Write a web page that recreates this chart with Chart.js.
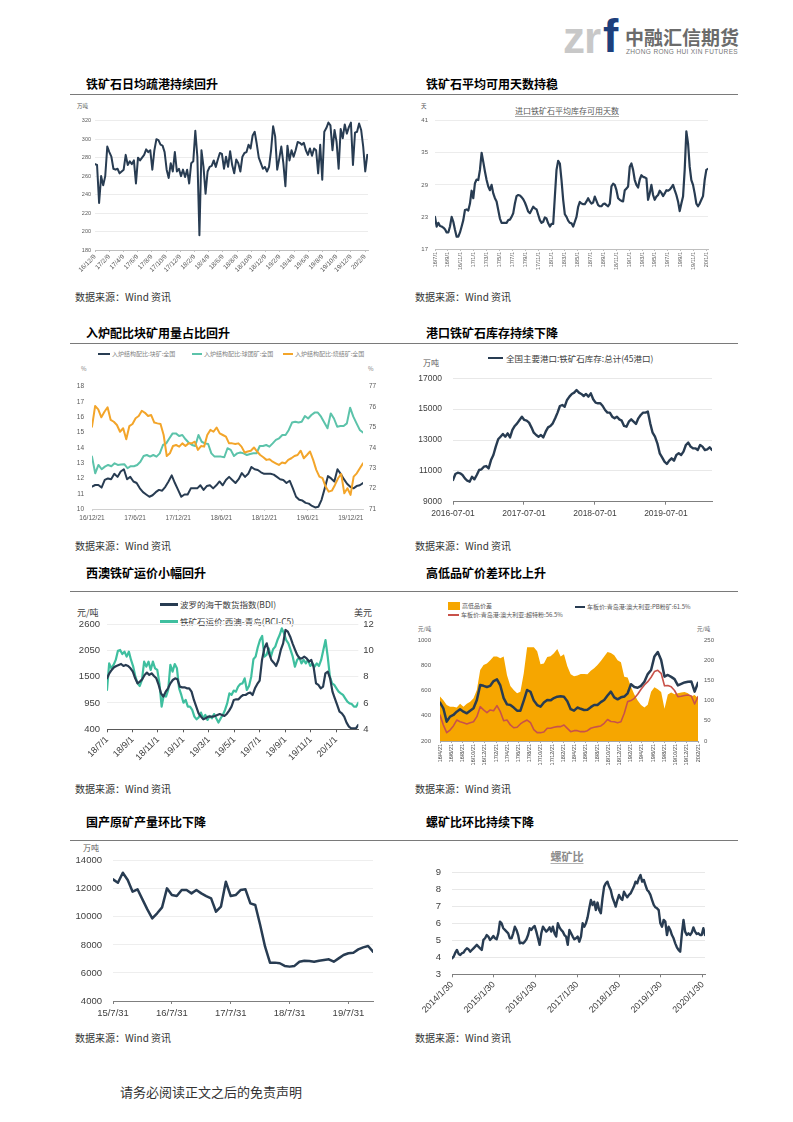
<!DOCTYPE html>
<html><head><meta charset="utf-8">
<script src="https://cdn.jsdelivr.net/npm/chart.js@4/dist/chart.umd.min.js"></script>
<style>
html,body{margin:0;padding:0;background:#fff;}
body{width:793px;height:1122px;position:relative;overflow:hidden;font-family:'Noto Sans CJK SC','Liberation Sans',sans-serif;}
.t{position:absolute;white-space:nowrap;line-height:1;}
canvas{position:absolute;}
</style></head><body>
<script>
// ---------- DATA ----------
const c1Labels=['16/12/9','17/2/9','17/4/9','17/6/9','17/8/9','17/10/9','17/12/9','18/2/9','18/4/9','18/6/9','18/8/9','18/10/9','18/12/9','19/2/9','19/4/9','19/6/9','19/8/9','19/10/9','19/12/9','20/2/9'];
const c1Port=[273,272,231,260,250,260,292,286,281,268,267,268,263,265,267,283,272,276,273,277,252,280,277,280,283,289,286,288,267,288,300,299,294,293,286,267,258,274,265,286,265,268,260,267,259,267,252,274,276,309,281,196,288,270,241,265,270,271,277,270,278,285,284,268,281,270,287,272,263,278,274,265,281,285,286,294,290,304,308,295,280,274,268,270,265,270,288,314,303,267,279,292,274,249,293,277,288,281,288,297,296,294,296,288,283,290,282,290,288,263,294,256,308,312,318,315,288,310,297,268,311,301,316,306,313,318,272,307,308,317,310,292,265,283];

const c2Labels=['16/7/1','16/9/1','16/11/1','17/1/1','17/3/1','17/5/1','17/7/1','17/9/1','17/11/1','18/1/1','18/3/1','18/5/1','18/7/1','18/9/1','18/11/1','19/1/1','19/3/1','19/5/1','19/7/1','19/9/1','19/11/1','20/1/1'];
const c2Days=[23.0,21.2,21.9,21.3,21.2,21.0,20.7,20.1,20.1,21.2,23.0,22.1,20.6,19.3,19.3,20.1,21.2,22.4,24.3,24.4,24.2,25.5,27.9,26.5,29.3,30.0,29.9,31.8,35.0,33.3,31.5,29.9,28.7,28.0,29.0,27.4,26.5,25.9,24.3,22.7,21.9,21.9,21.9,21.9,22.4,22.5,23.0,23.7,25.5,26.9,27.1,27.0,26.7,26.3,25.7,24.9,24.0,23.7,24.3,24.9,24.6,24.4,23.4,22.4,21.9,22.1,22.9,22.7,21.8,21.2,21.7,21.7,26.8,31.8,33.5,33.0,29.9,26.2,23.5,23.0,22.3,21.9,21.8,21.2,22.1,23.0,24.9,25.8,25.5,25.4,25.4,25.9,26.5,25.9,25.5,25.7,26.8,26.0,25.2,25.0,25.0,25.4,25.5,25.2,25.0,25.5,28.7,29.2,29.0,28.0,26.5,26.2,26.0,25.9,28.0,28.3,28.7,32.4,33.0,31.8,29.9,29.0,28.5,30.0,30.8,30.5,30.4,30.2,26.2,27.4,29.0,27.1,26.2,26.8,27.1,27.9,27.5,26.9,27.4,28.0,27.9,28.1,28.5,29.0,28.0,27.1,25.9,24.1,25.5,26.8,31.8,39.0,36.8,32.4,29.9,29.0,27.4,25.5,25.0,25.5,26.2,26.9,29.9,31.8,32.0];

const c3Labels=['16/12/21','17/6/21','17/12/21','18/6/21','18/12/21','19/6/21','19/12/21'];
const c3Lump=[11.46,11.57,11.57,11.4,11.9,12.0,11.95,12.3,12.1,12.45,12.6,11.95,12.1,11.8,11.7,11.35,11.1,10.95,10.8,10.9,11.1,11.25,11.2,11.45,11.8,12.2,11.7,11.25,10.8,10.95,10.95,11.35,11.35,11.35,11.55,11.25,11.5,11.55,11.35,11.55,11.8,11.55,11.9,12.1,11.9,11.7,11.95,12.35,12.1,12.3,12.75,12.6,12.55,12.4,12.3,12.3,12.3,12.25,12.1,11.95,11.9,11.7,11.85,11.35,10.8,10.6,10.55,10.4,10.35,10.2,10.1,10.15,10.6,11.35,12.15,12.0,11.8,12.6,12.3,11.95,11.65,11.45,11.35,11.5,11.55,11.7];
const c3Pellet=[73.57,72.75,73.16,72.95,73.08,73.16,73.1,73.24,73.16,73.18,73.2,73.0,73.1,73.1,73.16,73.32,73.6,73.65,73.57,73.65,73.57,73.73,74.14,74.22,74.47,74.71,74.71,74.58,74.63,74.42,74.25,74.14,74.09,74.63,74.3,74.22,74.19,73.73,73.57,73.57,73.57,73.54,73.98,73.9,73.6,73.73,73.77,73.73,73.65,73.7,73.73,73.73,74.09,74.09,74.14,74.06,74.22,74.39,74.47,74.63,74.63,74.88,75.24,75.28,75.24,75.28,75.56,75.44,75.61,75.73,75.73,75.53,75.24,74.96,75.69,75.44,75.04,75.07,75.07,75.2,75.97,75.53,75.2,74.88,74.75];
const c3Sinter=[75.04,76.05,75.89,75.5,75.77,75.99,75.37,75.28,75.12,74.79,74.96,74.42,75.07,75.17,75.45,75.56,75.82,75.72,75.56,75.61,75.24,75.2,75.17,74.63,73.6,73.73,74.09,74.14,74.06,74.22,74.09,74.22,74.22,74.3,73.9,74.09,74.06,74.63,74.88,74.79,75.0,74.71,74.63,74.55,74.22,74.22,74.19,74.22,74.06,73.77,73.82,73.86,74.02,73.82,73.65,73.54,73.41,73.44,73.32,73.24,73.16,73.28,73.24,73.41,73.49,73.6,73.65,73.86,73.49,73.65,73.82,73.41,72.92,72.59,72.51,72.1,71.85,71.9,72.18,72.51,72.72,71.77,72.02,71.69,72.59,72.75,73.0,73.24];

const c4Labels=['2016-07-01','2017-07-01','2018-07-01','2019-07-01'];
const c4Stock=[10405,10795,10880,10840,10730,10515,10360,10300,10620,10450,10730,11055,11100,11270,11310,11160,11700,12030,12570,13045,13215,13390,13215,13430,13170,13650,13910,14080,14300,14510,14300,14255,14125,13820,13475,13325,13215,13325,13170,13540,13820,13910,14080,14405,14775,15205,15270,15160,15595,15810,15985,16070,16240,16070,15985,15855,15985,15810,16025,15640,15420,15380,15380,15205,14945,14775,14775,14510,14405,14510,14340,14255,13910,13865,14190,14340,14190,14040,14405,14620,14775,14775,14840,14080,13475,13215,12785,12135,11875,11595,11445,11660,11810,11660,12030,12135,12030,12245,12675,12830,12570,12460,12460,12350,12675,12570,12350,12395,12525,12350];

const c5Labels=['18/7/1','18/9/1','18/11/1','19/1/1','19/3/1','19/5/1','19/7/1','19/9/1','19/11/1','20/1/1'];
const c5BDI=[1465,1570,1640,1695,1723,1744,1765,1723,1744,1723,1674,1604,1465,1361,1396,1444,1535,1584,1535,1570,1514,1465,1326,1152,1082,1187,1256,1361,1430,1465,1444,1291,1277,1277,1256,1256,1187,1013,873,734,665,609,630,665,665,665,679,700,720,700,679,720,790,873,1013,1027,1027,1082,1117,1117,1152,1166,1117,1256,1347,1416,1848,2092,2196,1987,1848,1792,1723,1848,2057,2196,2475,2440,2335,2196,2071,1953,1883,1883,1918,1883,1813,1848,1695,1361,1326,1256,1291,1570,1604,1465,1187,1048,908,769,734,665,539,456,421,421,421,490];
const c5C5=[6.99,9.01,8.63,8.89,9.27,9.97,10.03,9.72,9.9,9.52,9.9,9.27,8.76,8.0,7.49,7.29,7.75,9.14,8.76,9.14,8.51,9.14,8.63,8.51,7.49,5.72,6.61,6.48,6.99,8.89,8.38,8.96,8.63,7.11,6.61,6.02,6.23,5.72,5.72,5.47,4.96,4.76,4.91,5.27,4.83,5.09,4.71,5.01,4.83,5.16,4.83,4.51,4.83,5.09,5.47,5.97,6.73,6.61,6.94,6.86,7.24,7.44,7.49,7.87,6.99,7.29,8.0,9.32,9.52,10.23,10.78,11.09,9.52,9.65,10.15,9.52,10.08,10.28,10.78,11.16,11.67,11.29,10.78,10.53,10.03,9.52,8.76,9.27,9.47,9.01,9.27,9.01,9.27,8.81,9.01,8.76,9.01,8.81,9.27,10.03,10.78,9.52,8.0,7.49,7.37,7.11,6.86,6.73,6.61,6.35,6.1,5.97,5.92,5.72,5.72,6.02];

const c6Labels=['16/4/21','16/6/21','16/8/21','16/10/21','16/12/21','17/2/21','17/4/21','17/6/21','17/8/21','17/10/21','17/12/21','18/2/21','18/4/21','18/6/21','18/8/21','18/10/21','18/12/21','19/2/21','19/4/21','19/6/21','19/8/21','19/10/21','19/12/21','20/2/21'];
const c6Spread=[110,101,89,85,85,83,92,85,92,97,106,126,176,188,192,200,209,209,205,209,163,136,126,118,122,168,232,232,232,222,190,192,208,210,217,228,209,215,185,165,160,162,166,166,165,174,180,188,198,209,220,218,212,200,195,159,157,134,115,100,89,83,90,122,133,128,121,80,115,120,116,118,120,121,118,111,114,106];
const c6PB=[504,459,353,393,406,432,451,432,419,440,459,525,644,637,628,637,675,688,640,540,490,485,465,440,440,520,604,590,520,485,472,505,525,522,540,551,555,550,515,452,440,465,455,446,448,468,485,485,508,525,560,591,545,530,546,552,578,650,628,622,637,670,730,762,870,905,842,710,723,708,690,640,652,664,670,672,591,662];
const c6SSF=[406,327,266,287,319,366,353,345,335,345,353,393,472,446,424,446,440,480,432,360,366,327,305,309,335,353,366,345,290,266,266,271,301,301,309,314,314,327,300,274,282,282,274,274,282,301,309,314,319,340,370,355,353,345,353,420,512,520,538,570,610,644,670,705,750,760,736,637,640,630,600,551,555,560,564,556,493,551];

const c7Labels=['15/7/31','16/7/31','17/7/31','18/7/31','19/7/31'];
const c7Output=[12670,12430,13145,12620,11790,11960,11245,10530,9890,10250,10675,12030,11555,11480,11910,11910,11670,11910,11670,11480,11315,10365,10720,12500,11480,11555,11910,11960,10960,10840,9415,7870,6735,6735,6690,6500,6450,6500,6800,6875,6850,6800,6875,6920,6970,6800,7040,7280,7400,7445,7680,7825,7920,7515];

const c8Labels=['2014/1/30','2015/1/30','2016/1/30','2017/1/30','2018/1/30','2019/1/30','2020/1/30'];
const c8Ratio=[3.94,4.04,4.27,4.43,4.2,4.14,4.24,4.27,4.43,4.53,4.47,4.33,4.43,4.53,4.63,4.73,4.63,4.53,4.43,5.02,5.12,5.31,5.22,5.02,5.12,5.25,5.12,5.06,5.41,6.1,6.0,5.71,5.61,5.51,5.41,5.12,5.12,5.41,5.8,5.61,5.31,4.82,4.86,4.82,4.92,5.06,5.31,5.71,5.61,5.76,5.84,5.51,5.12,4.73,5.41,5.8,5.65,5.51,5.61,5.76,5.51,5.8,5.41,5.22,6.0,5.76,5.61,5.51,5.31,5.22,4.73,5.61,5.41,5.22,5.06,5.12,5.22,4.92,5.22,6.0,5.8,6.0,6.35,6.88,7.37,7.08,7.27,6.78,7.22,6.78,6.59,7.47,8.16,8.35,8.45,8.16,7.96,7.53,7.27,6.98,7.37,7.67,7.47,7.37,7.86,7.67,7.53,7.67,7.76,7.96,8.16,8.45,8.35,8.65,8.84,8.45,8.55,8.25,7.96,7.86,7.67,7.37,7.08,6.94,6.88,6.78,6.0,5.8,6.2,6.1,5.31,5.8,5.61,5.31,5.12,4.82,4.59,4.43,4.33,5.37,6.2,5.51,5.31,5.41,5.31,5.45,5.76,5.51,5.37,5.41,5.31,5.31,5.71,5.31];

// ---------- HELPERS ----------
Chart.defaults.font.family="'Liberation Sans','Noto Sans CJK SC',sans-serif";
const NAVY='#283c52',TEAL3='#5cc3aa',TEAL5='#3fbf9f',ORANGE='#f3a52a',AREA='#f6a600',RED='#c8524a';
function T(s,x,cy,o){o=o||{};const d=document.createElement('div');d.className='t';d.textContent=s;
 const fs=o.fs||10;d.style.fontSize=fs+'px';d.style.left=x+'px';d.style.top=(cy-fs/2)+'px';
 d.style.color=o.c||'#333';if(o.b)d.style.fontWeight=o.b;if(o.ff)d.style.fontFamily=o.ff;
 if(o.center)d.style.transform='translateX(-50%)';
 if(o.u){d.style.textDecoration='underline';d.style.textDecorationColor=o.u;d.style.textUnderlineOffset='2px';}
 if(o.ls)d.style.letterSpacing=o.ls+'px';document.body.appendChild(d);return d;}
function R(x,y,w,h,c){const d=document.createElement('div');d.style.cssText='position:absolute;left:'+x+'px;top:'+y+'px;width:'+w+'px;height:'+h+'px;background:'+c;document.body.appendChild(d);}
function L(x1,x2,cy,c,w){R(x1,cy-w/2,x2-x1,w,c);}
function pts(vals,x0,x1){const n=vals.length-1;return vals.map((v,i)=>({x:x0+(x1-x0)*i/n,y:v}));}
function steps(a,b,s){const r=[];for(let v=a;v<=b+1e-9;v+=s)r.push(+v.toFixed(4));return r;}

function build(box,area,o){
 const c=document.createElement('canvas');c.width=box[2];c.height=box[3];
 c.style.left=box[0]+'px';c.style.top=box[1]+'px';c.style.width=box[2]+'px';c.style.height=box[3]+'px';
 document.body.appendChild(c);
 const leftW=area[0]-box[0],topP=area[1]-box[1],rightW=box[0]+box[2]-area[2],botH=box[1]+box[3]-area[3];
 const fix=v=>a=>{a.ticks=v.map(x=>({value:x}));};
 const X=o.x,Y=o.y;
 const scales={
  x:{type:'linear',position:'bottom',min:X.min,max:X.max,afterBuildTicks:fix(X.ticks),
   afterFit:a=>{a.height=botH;a.paddingLeft=0;a.paddingRight=0;},
   ticks:{autoSkip:false,maxRotation:X.rot,minRotation:X.rot,font:{size:X.fs},color:X.c,padding:X.pad,callback:(v,i)=>X.labels[i]},
   grid:{drawOnChartArea:false,drawTicks:!!X.tl,tickLength:X.tl||0,color:X.ac},
   border:{display:true,color:X.ac,width:1}},
  y:{type:'linear',position:'left',min:Y.min,max:Y.max,afterBuildTicks:fix(Y.ticks),
   afterFit:a=>{a.width=leftW;a.paddingTop=0;a.paddingBottom=0;},
   ticks:{font:{size:Y.fs},color:Y.c,padding:Y.pad,callback:v=>String(v)},
   grid:{display:!!o.grid,color:o.grid||'#fff',drawTicks:false},border:{display:false}}
 };
 if(o.y1){const Z=o.y1;scales.y1={type:'linear',position:'right',min:Z.min,max:Z.max,afterBuildTicks:fix(Z.ticks),
   afterFit:a=>{a.width=rightW;a.paddingTop=0;a.paddingBottom=0;},
   ticks:{font:{size:Z.fs},color:Z.c,padding:Z.pad,callback:v=>String(v)},
   grid:{drawOnChartArea:false,drawTicks:false},border:{display:false}};}
 new Chart(c,{type:'line',data:{datasets:o.ds},options:{responsive:false,maintainAspectRatio:false,animation:false,
  layout:{padding:{top:topP,right:o.y1?0:rightW,left:0,bottom:0}},
  plugins:{legend:{display:false},tooltip:{enabled:false}},
  elements:{point:{radius:0},line:{tension:0,borderJoinStyle:'round',borderCapStyle:'round'}},scales}});
}
function line(data,color,w,axis){return {data,borderColor:color,backgroundColor:color,borderWidth:w,fill:false,yAxisID:axis||'y',pointRadius:0};}

// ---------- PAGE FRAME ----------
T('zr',563,38,{fs:44,c:'#c8c8c8',b:700,ff:'Liberation Sans',ls:-1});
T('f',603,36,{fs:46,c:'#1d3f7c',b:700,ff:'Liberation Sans'});
T('中融汇信期货',625,36,{fs:19,c:'#6b6b6b',b:700});
T('ZHONG RONG HUI XIN FUTURES',626,52,{fs:6.5,c:'#777',ff:'Liberation Sans',ls:0.35});

const rows=[[84,94,297],[333,343,546],[573,591,789],[822,840,1038]];
const titles=[['铁矿石日均疏港持续回升','铁矿石平均可用天数持稳'],['入炉配比块矿用量占比回升','港口铁矿石库存持续下降'],['西澳铁矿运价小幅回升','高低品矿价差环比上升'],['国产原矿产量环比下降','螺矿比环比持续下降']];
rows.forEach((r,i)=>{
 T(titles[i][0],86,r[0],{fs:12,b:700,c:'#000'});T(titles[i][1],426,r[0],{fs:12,b:700,c:'#000'});
 R(70,r[1],668,1,'#7a7a7a');
 T('数据来源：Wind 资讯',75,r[2],{fs:10,c:'#333'});T('数据来源：Wind 资讯',415,r[2],{fs:10,c:'#333'});
});
T('请务必阅读正文之后的免责声明',120,1091,{fs:13,c:'#333'});

// ---------- CHART 1 ----------
T('万吨',77,107,{fs:5.5,c:'#595959'});
build([70,100,310,185],[95,120.7,368,250],{grid:'#ececec',
 x:{min:0,max:38.4,ticks:steps(0,38,2),labels:c1Labels,rot:45,fs:6.5,c:'#595959',pad:1,tl:2,ac:'#bfbfbf'},
 y:{min:180,max:320,ticks:steps(180,320,20),fs:5.5,c:'#595959',pad:4},
 ds:[line(pts(c1Port,0,38.3),NAVY,2)]});

// ---------- CHART 2 ----------
T('天',421,107,{fs:5.5,c:'#595959'});
T('进口铁矿石平均库存可用天数',567,111,{fs:8,c:'#595959',center:true,u:'#a6a6a6'});
build([410,100,330,185],[435,120.7,708,249],{grid:'#ececec',
 x:{min:0,max:42.2,ticks:steps(0,42,2),labels:c2Labels,rot:90,fs:5.5,c:'#595959',pad:1,tl:2,ac:'#bfbfbf'},
 y:{min:17,max:41,ticks:steps(17,41,6),fs:6,c:'#595959',pad:7},
 ds:[line(pts(c2Days,0,42.2),NAVY,2.2)]});

// ---------- CHART 3 ----------
L(98,110,354,NAVY,2);T('入炉结构配比:块矿:全国',112,354,{fs:6,c:'#7f7f7f'});
L(192,202,354,TEAL3,2);T('入炉结构配比:球团矿:全国',204,354,{fs:6,c:'#7f7f7f'});
L(283,293,354,ORANGE,2);T('入炉结构配比:烧结矿:全国',295,354,{fs:6,c:'#7f7f7f'});
T('%',81,369,{fs:6,c:'#7f7f7f'});T('%',368,369,{fs:6,c:'#7f7f7f'});
build([70,360,310,170],[92,386.7,363,509],{grid:null,
 x:{min:0,max:37.7,ticks:steps(0,36,6),labels:c3Labels,rot:0,fs:6.5,c:'#595959',pad:3,tl:2,ac:'#d0d0d0'},
 y:{min:10,max:18,ticks:steps(10,18,1),fs:6.5,c:'#595959',pad:8},
 y1:{min:71,max:77,ticks:steps(71,77,1),fs:6.5,c:'#595959',pad:6},
 ds:[line(pts(c3Sinter,0,37.7),ORANGE,2,'y1'),line(pts(c3Lump,0,37.7),NAVY,2,'y'),line(pts(c3Pellet,0,37.7),TEAL3,2,'y1')]});

// ---------- CHART 4 ----------
L(488,503,358,NAVY,2.5);T('全国主要港口:铁矿石库存:总计(45港口)',506,358,{fs:8.5,c:'#404040'});
T('万吨',423,363,{fs:8,c:'#595959'});
build([410,365,330,165],[453,378.3,712,501.7],{grid:'#e8e8e8',
 x:{min:0,max:43.8,ticks:[0,12,24,36],labels:c4Labels,rot:0,fs:8.5,c:'#404040',pad:4,tl:3,ac:'#7f7f7f'},
 y:{min:9000,max:17000,ticks:steps(9000,17000,2000),fs:8.5,c:'#404040',pad:11},
 ds:[line(pts(c4Stock,0,43.8),NAVY,2.4)]});

// ---------- CHART 5 ----------
L(160,178,604,NAVY,3);T('波罗的海干散货指数(BDI)',180,604,{fs:8.5,c:'#404040'});
L(160,178,621,TEAL5,3);T('铁矿石运价:西澳-青岛(BCI-C5)',180,621,{fs:8.5,c:'#404040'});
T('元/吨',77,612,{fs:9,c:'#404040'});T('美元',354,612,{fs:9,c:'#404040'});
build([70,615,310,175],[107,624,358.3,729.3],{grid:'#eeeeee',
 x:{min:0,max:19.74,ticks:steps(0,18,2),labels:c5Labels,rot:45,fs:9,c:'#404040',pad:2,tl:3,ac:'#595959'},
 y:{min:400,max:2600,ticks:[400,950,1500,2050,2600],fs:9.5,c:'#404040',pad:7},
 y1:{min:4,max:12,ticks:[4,6,8,10,12],fs:9.5,c:'#404040',pad:5},
 ds:[line(pts(c5BDI,0,19.74),NAVY,2.2,'y'),line(pts(c5C5,0,19.74),TEAL5,2.2,'y1')]});

// ---------- CHART 6 ----------
R(448,602,12,8,AREA);T('高低品价差',462,606,{fs:6,c:'#595959'});
L(575,585,607,NAVY,2.5);T('车板价:青岛港:澳大利亚:PB粉矿:61.5%',587,607,{fs:6,c:'#595959'});
L(448,459,615,RED,2);T('车板价:青岛港:澳大利亚:超特粉:56.5%',461,615,{fs:6,c:'#595959'});
T('元/吨',418,630,{fs:5.5,c:'#595959'});T('元/吨',697,630,{fs:5.5,c:'#595959'});
build([410,632,330,155],[440,640,698,741],{grid:null,
 x:{min:0,max:46,ticks:steps(0,46,2),labels:c6Labels,rot:90,fs:5.5,c:'#404040',pad:1,tl:2,ac:'#a6a6a6'},
 y:{min:200,max:1000,ticks:steps(200,1000,200),fs:6,c:'#595959',pad:9},
 y1:{min:0,max:250,ticks:steps(0,250,50),fs:6,c:'#595959',pad:6},
 ds:[line(pts(c6PB,0,46),NAVY,2.5,'y'),line(pts(c6SSF,0,46),RED,1.6,'y'),
     {data:pts(c6Spread,0,46),yAxisID:'y1',fill:'start',backgroundColor:AREA,borderColor:AREA,borderWidth:0,pointRadius:0}]});

// ---------- CHART 7 ----------
T('万吨',83,848,{fs:8,c:'#595959'});
build([70,850,310,180],[113,860.7,373,1001],{grid:'#eeeeee',
 x:{min:0,max:53,ticks:[0,12,24,36,48],labels:c7Labels,rot:0,fs:9.5,c:'#404040',pad:4,tl:3,ac:'#7f7f7f'},
 y:{min:4000,max:14000,ticks:steps(4000,14000,2000),fs:9.5,c:'#404040',pad:11},
 ds:[line(pts(c7Output,0,53),NAVY,2.5)]});

// ---------- CHART 8 ----------
T('螺矿比',567,856,{fs:11,c:'#8c8c8c',b:700,center:true,u:'#b0b0b0'});
build([410,862,330,170],[452,872.3,705,974.3],{grid:'#e8e8e8',
 x:{min:0,max:6.056,ticks:[0,1,2,3,4,5,6],labels:c8Labels,rot:45,fs:9,c:'#404040',pad:2,tl:3,ac:'#7f7f7f'},
 y:{min:3,max:9,ticks:steps(3,9,1),fs:9.5,c:'#404040',pad:11},
 ds:[line(pts(c8Ratio,0,6.056),NAVY,2.4)]});
</script>
</body></html>
